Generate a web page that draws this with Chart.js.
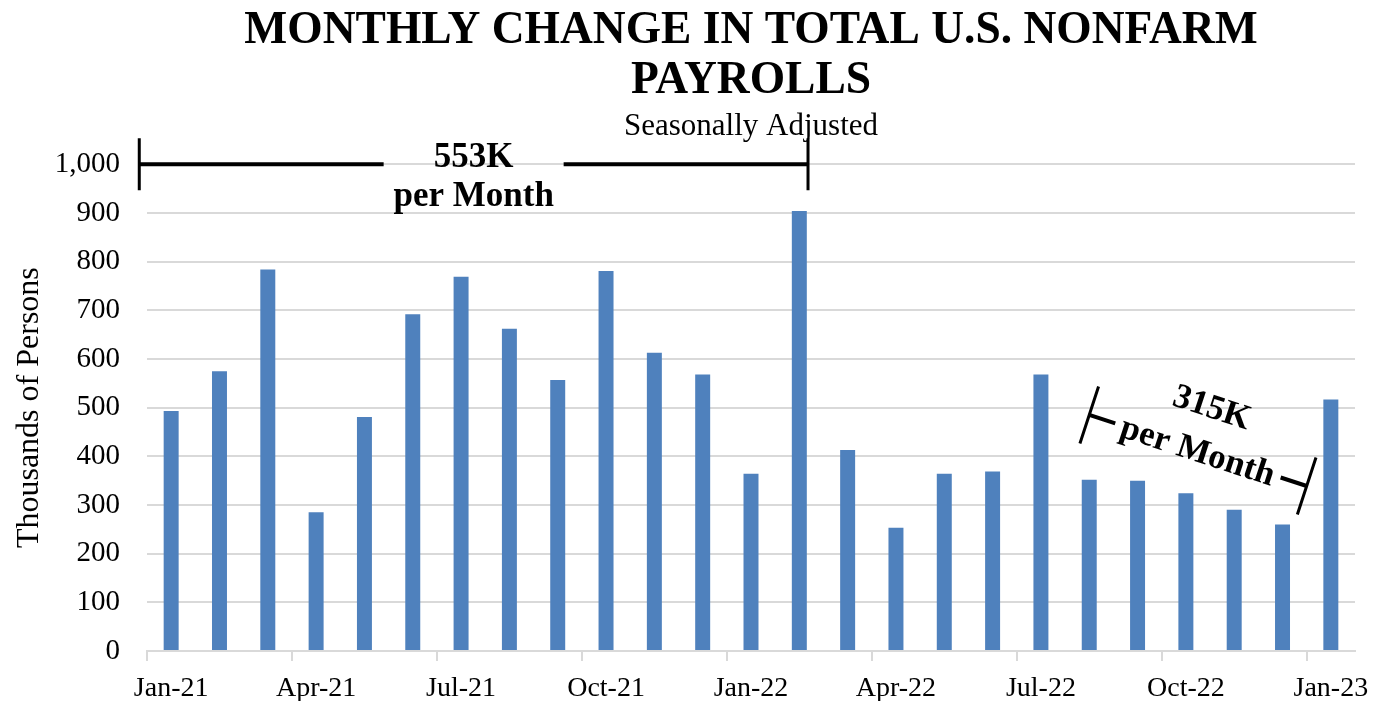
<!DOCTYPE html>
<html>
<head>
<meta charset="utf-8">
<script src="https://cdn.jsdelivr.net/npm/chart.js@4"></script>
<style>
  html, body { margin: 0; padding: 0; background: #fff; }
  #wrap { width: 1373px; height: 703px; }
</style>
</head>
<body>
<div id="wrap"><canvas id="payrolls-chart"></canvas></div>
<script>
// monthly change, thousands of persons
const months = [
	"Jan-21", "Feb-21", "Mar-21", "Apr-21", "May-21", "Jun-21", "Jul-21", "Aug-21", "Sep-21",
	"Oct-21", "Nov-21", "Dec-21", "Jan-22", "Feb-22", "Mar-22", "Apr-22", "May-22", "Jun-22",
	"Jul-22", "Aug-22", "Sep-22", "Oct-22", "Nov-22", "Dec-22", "Jan-23",
];
const payrollChange = [
	493, 575, 784, 285, 481, 692, 769, 662, 557,
	781, 613, 568, 364, 904, 413, 253, 364, 369,
	568, 352, 350, 324, 290, 260, 517,
];
const yTicks = [0, 100, 200, 300, 400, 500, 600, 700, 800, 900, 1000];
const avgLabels = ["553K", "315K"];

const serif = "'Liberation Serif', 'Times New Roman', serif";

// average brackets, anchored in data space (category index, value)
const brackets = [
	{ from: [-0.66, 1000], to: [13.18, 1000], top: avgLabels[0], topDy: -6, bottomDy: 33, gap: 180, cap: 26 },
	{ from: [19, 485], to: [23.5, 339], top: avgLabels[1], topDy: -44, bottomDy: 2, gap: 174, cap: 30 },
];

const bracketPlugin = {
	id: "brackets",
	afterDraw(chart) {
		const { ctx, scales } = chart;
		const x = scales.x, y = scales.y;
		ctx.save();
		ctx.strokeStyle = "#000";
		ctx.fillStyle = "#000";
		brackets.forEach((b) => {
			const x1 = x.getPixelForValue(b.from[0]), y1 = y.getPixelForValue(b.from[1]);
			const x2 = x.getPixelForValue(b.to[0]), y2 = y.getPixelForValue(b.to[1]);
			const len = Math.hypot(x2 - x1, y2 - y1);
			const ang = Math.atan2(y2 - y1, x2 - x1);
			ctx.save();
			ctx.translate(x1, y1);
			ctx.rotate(ang);
			// line split round the text
			ctx.lineWidth = 4;
			ctx.beginPath();
			ctx.moveTo(0, 0);
			ctx.lineTo(len / 2 - b.gap / 2, 0);
			ctx.moveTo(len / 2 + b.gap / 2, 0);
			ctx.lineTo(len, 0);
			ctx.stroke();
			// end caps
			ctx.lineWidth = 3;
			ctx.beginPath();
			ctx.moveTo(0, -b.cap);
			ctx.lineTo(0, b.cap);
			ctx.moveTo(len, -b.cap);
			ctx.lineTo(len, b.cap);
			ctx.stroke();
			ctx.font = "bold 35px " + serif;
			ctx.textAlign = "center";
			ctx.textBaseline = "middle";
			ctx.fillText(b.top, len / 2, b.topDy);
			ctx.fillText("per Month", len / 2, b.bottomDy);
			ctx.restore();
		});
		ctx.restore();
	},
};

Chart.defaults.font.family = serif;
Chart.defaults.color = "#000";

new Chart(document.getElementById("payrolls-chart"), {
	type: "bar",
	data: {
		labels: months,
		datasets: [
			{
				label: "Monthly change",
				data: payrollChange,
				backgroundColor: "#4F81BD",
				borderWidth: 0,
				barPercentage: 0.31,
				categoryPercentage: 1.0,
			},
		],
	},
	options: {
		responsive: true,
		maintainAspectRatio: false,
		animation: false,
		layout: { padding: { top: 0, right: 18, bottom: 2, left: 6 } },
		plugins: {
			legend: { display: false },
			tooltip: { enabled: false },
			title: {
				display: true,
				fullSize: false,
				text: ["MONTHLY CHANGE IN TOTAL U.S. NONFARM", "PAYROLLS"],
				font: { size: 45.5, weight: "bold", family: serif, lineHeight: 1.1 },
				color: "#000",
				padding: { top: 6, bottom: 0 },
			},
			subtitle: {
				display: true,
				fullSize: false,
				text: "Seasonally Adjusted",
				font: { size: 31, family: serif, lineHeight: 1.2 },
				color: "#000",
				padding: { top: 2, bottom: 19 },
			},
		},
		scales: {
			x: {
				afterFit: (axis) => {
					axis.height = 50;
					axis.paddingLeft = 0;
					axis.paddingRight = 0;
				},
				grid: {
					drawOnChartArea: false,
					tickLength: 10,
					lineWidth: 2,
					color: (c) => (c.index % 3 === 0 ? "#d9d9d9" : "rgba(0,0,0,0)"),
				},
				border: { color: "#d9d9d9", width: 2 },
				ticks: {
					autoSkip: false,
					maxRotation: 0,
					padding: 11,
					font: { size: 28, family: serif },
					color: "#000",
					callback: (v, i) => (i % 3 === 0 ? months[i] : ""),
				},
			},
			y: {
				min: yTicks[0],
				max: yTicks[yTicks.length - 1],
				afterBuildTicks: (axis) => {
					axis.ticks = yTicks.map((v) => ({ value: v }));
				},
				afterFit: (axis) => {
					axis.width = 141;
				},
				grid: { color: "#d9d9d9", lineWidth: 2, drawTicks: false },
				border: { display: false },
				ticks: {
					padding: 27,
					font: { size: 29, family: serif },
					color: "#000",
					callback: (v) => v.toLocaleString("en-US"),
				},
				title: {
					display: true,
					text: "Thousands of Persons",
					font: { size: 32, family: serif },
					color: "#000",
					padding: { top: 4, bottom: 4 },
				},
			},
		},
	},
	plugins: [bracketPlugin],
});
</script>
</body>
</html>
